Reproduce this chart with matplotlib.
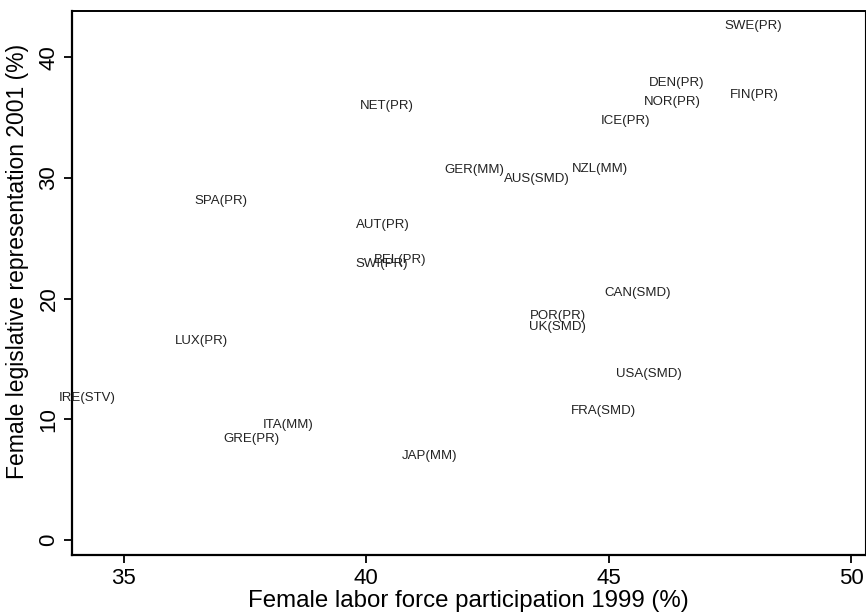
"""
Female legislative representation vs. female labor force participation
"""

import matplotlib
matplotlib.use('Agg')
import matplotlib.pyplot as plt

plt.rcParams.update({
    'font.family': ['Liberation Sans', 'DejaVu Sans'],
})

# data
countries = ['SWE(PR)', 'DEN(PR)', 'NOR(PR)', 'FIN(PR)', 'ICE(PR)', 'NET(PR)',
             'GER(MM)', 'AUS(SMD)', 'NZL(MM)', 'SPA(PR)', 'AUT(PR)', 'BEL(PR)',
             'SWI(PR)', 'CAN(SMD)', 'POR(PR)', 'UK(SMD)', 'LUX(PR)', 'IRE(STV)',
             'ITA(MM)', 'GRE(PR)', 'JAP(MM)', 'USA(SMD)', 'FRA(SMD)']
labor_1999 = [47.98, 46.41, 46.31, 48.00, 45.34, 40.43,
              42.22, 43.52, 44.82, 37.00, 40.34, 40.69,
              40.32, 45.60, 43.95, 43.95, 36.61, 34.24,
              38.38, 37.64, 41.31, 45.83, 44.90]
legis_2001 = [42.55, 37.90, 36.25, 36.85, 34.70, 35.92,
              30.62, 29.95, 30.70, 28.13, 26.14, 23.16,
              22.83, 20.43, 18.52, 17.69, 16.45, 11.73,
              9.57, 8.41, 7.00, 13.72, 10.73]

xticks = [35, 40, 45, 50]
yticks = [0, 10, 20, 30, 40]

fig = plt.figure(figsize=(8.66, 6.16), dpi=100)
ax = fig.add_axes([72 / 866, 61 / 616, 793 / 866, 544 / 616])

for name, x, y in zip(countries, labor_1999, legis_2001):
    ax.text(x, y, name, ha='center', va='center', fontsize=9.5,
            color='#222222', clip_on=False)

ax.set_xlim(33.93, 50.29)
ax.set_ylim(-1.24, 43.83)
ax.set_xticks(xticks)
ax.set_yticks(yticks)
ax.tick_params(axis='both', direction='out', length=6, width=1.3,
               labelsize=16, color='black', pad=3)
for lab in ax.get_yticklabels():
    lab.set_rotation(90)
    lab.set_va('center')

ax.set_xlabel('Female labor force participation 1999 (%)', fontsize=17.3, labelpad=1)
ax.set_ylabel('Female legislative representation 2001 (%)', fontsize=16.5)
ax.yaxis.set_label_coords(-0.054, 0.54)

ax.spines['left'].set_linewidth(1.6)
ax.spines['bottom'].set_linewidth(1.6)
ax.spines['top'].set_linewidth(1.4)
ax.spines['right'].set_linewidth(0.8)

fig.savefig('out.png', dpi=100)
